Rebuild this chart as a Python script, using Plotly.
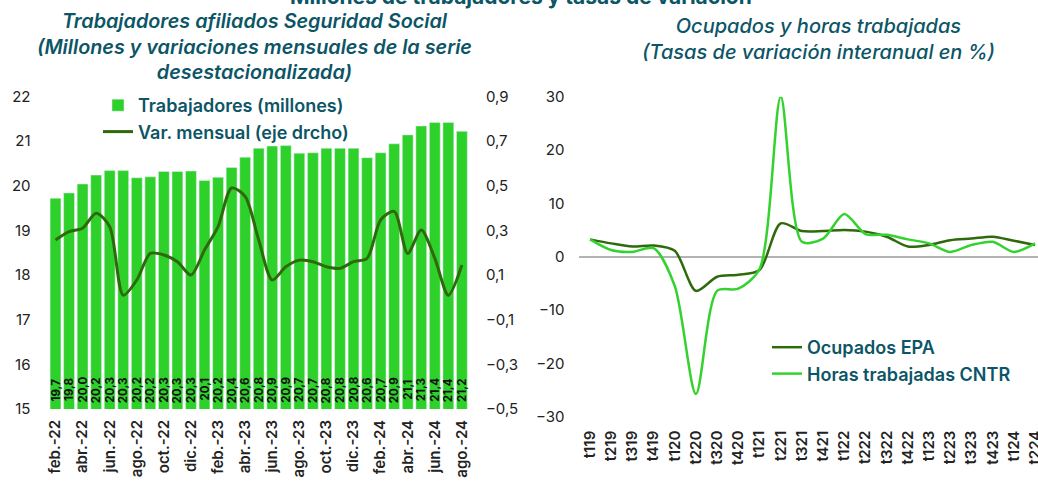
import plotly.graph_objects as go

W, H = 1038, 481

meses = ["feb.-22", "mar.-22", "abr.-22", "may.-22", "jun.-22", "jul.-22", "ago.-22",
         "sep.-22", "oct.-22", "nov.-22", "dic.-22", "ene.-23", "feb.-23", "mar.-23",
         "abr.-23", "may.-23", "jun.-23", "jul.-23", "ago.-23", "sep.-23", "oct.-23",
         "nov.-23", "dic.-23", "ene.-24", "feb.-24", "mar.-24", "abr.-24", "may.-24",
         "jun.-24", "jul.-24", "ago.-24"]
afiliados = [19.72, 19.84, 20.04, 20.24, 20.34, 20.34, 20.18, 20.20, 20.32, 20.32, 20.33,
             20.12, 20.19, 20.41, 20.64, 20.84, 20.89, 20.90, 20.73, 20.74, 20.84, 20.84,
             20.84, 20.63, 20.74, 20.94, 21.14, 21.34, 21.42, 21.42, 21.22]
var_mensual = [0.257, 0.295, 0.31, 0.377, 0.317, 0.01, 0.078, 0.197, 0.19, 0.16, 0.10,
               0.212, 0.317, 0.49, 0.452, 0.257, 0.078, 0.137, 0.167, 0.16, 0.137, 0.13,
               0.16, 0.175, 0.347, 0.385, 0.197, 0.302, 0.175, 0.01, 0.145]
meses_ticks = meses[::2]

trimestres = ["t119", "t219", "t319", "t419", "t120", "t220", "t320", "t420", "t121",
              "t221", "t321", "t421", "t122", "t222", "t322", "t422", "t123", "t223",
              "t323", "t423", "t124", "t224"]
ocupados_epa = [3.25, 2.5, 1.9, 2.1, 1.1, -6.4, -3.75, -3.4, -2.5, 6.25, 4.8, 4.8, 5.0,
                4.7, 3.75, 1.9, 2.2, 3.1, 3.4, 3.75, 3.0, 2.2]
horas_cntr = [3.25, 1.25, 0.9, 1.6, -5.5, -25.75, -6.4, -6.0, -2.3, 30.0, 2.8, 3.4, 8.0,
              4.25, 4.1, 3.25, 2.5, 0.9, 2.2, 2.8, 0.9, 2.5]

BAR = "#2ed12a"
DARK = "#2e6a0c"
LIGHT = "#33d22f"
TEAL = "#0c5566"
FONT = "Inter"
TICKC = "#222222"
Y_MIN_LEFT = 15


def px_x(p):
    return p / W


def px_y(p):
    return 1 - p / H


fig = go.Figure()

fig.add_trace(go.Bar(
    x=meses, y=afiliados, name="Trabajadores (millones)", marker_color=BAR,
    xaxis="x", yaxis="y", legend="legend"))
fig.add_trace(go.Scatter(
    x=meses, y=var_mensual, name="Var. mensual (eje drcho)", mode="lines",
    line=dict(color=DARK, width=3, shape="spline", smoothing=0.8),
    xaxis="x", yaxis="y2", legend="legend"))

fig.add_trace(go.Scatter(
    x=trimestres, y=ocupados_epa, name="Ocupados EPA", mode="lines",
    line=dict(color=DARK, width=2.5, shape="spline", smoothing=0.8),
    xaxis="x3", yaxis="y3", legend="legend2"))
fig.add_trace(go.Scatter(
    x=trimestres, y=horas_cntr, name="Horas trabajadas CNTR", mode="lines",
    line=dict(color=LIGHT, width=2.5, shape="spline", smoothing=0.8),
    xaxis="x3", yaxis="y3", legend="legend2"))

# data labels inside the bars, near the base, rotated
for m, v in zip(meses, afiliados):
    fig.add_annotation(x=m, y=Y_MIN_LEFT, xref="x", yref="y",
                       text=f"{v:.1f}".replace(".", ","), textangle=-90,
                       showarrow=False, xanchor="center", yanchor="middle",
                       yshift=19,
                       font=dict(family=FONT, size=11.5, color="#111111", weight="bold"))

tickfont = dict(family=FONT, size=15, color=TICKC)
xtickfont = dict(family=FONT, size=15, color=TICKC, weight=600)

left_dom = [px_x(46.5), px_x(470.9)]
left_ydom = [px_y(409), px_y(96.5)]
right_dom = [px_x(579.4), 1.0]
right_ydom = [px_y(416.7), px_y(96.7)]

fig.update_layout(
    width=W, height=H,
    margin=dict(l=0, r=0, t=0, b=0),
    paper_bgcolor="white", plot_bgcolor="white",
    separators=",.",
    font=dict(family=FONT, color=TICKC),
    bargap=0.2,
    xaxis=dict(domain=left_dom, type="category", tickmode="array", tickvals=meses_ticks,
               tickangle=-90, tickfont=xtickfont, showgrid=False, showline=False,
               ticks="", ticklabelstandoff=7, anchor="y", automargin=False),
    yaxis=dict(domain=left_ydom, range=[Y_MIN_LEFT, 22], dtick=1, tickfont=tickfont,
               showgrid=False, zeroline=False, showline=False, ticks="",
               ticklabelstandoff=15, anchor="x", automargin=False),
    yaxis2=dict(domain=left_ydom, range=[-0.5, 0.9], tick0=-0.5, dtick=0.2,
                tickformat=".1f", overlaying="y", side="right", anchor="x",
                tickfont=tickfont, showgrid=False, zeroline=False, showline=False,
                ticks="", ticklabelstandoff=14, automargin=False),
    xaxis3=dict(domain=right_dom, type="category", range=[-0.5, 21.14],
                tickangle=-90, tickfont=dict(family=FONT, size=15, color=TICKC, weight=600),
                showgrid=False, showline=False, ticks="", ticklabelstandoff=10,
                anchor="y3", automargin=False),
    yaxis3=dict(domain=right_ydom, range=[-30, 30], dtick=10, tickfont=tickfont,
                showgrid=False, zeroline=True, zerolinecolor="#b3b3b3", zerolinewidth=2,
                showline=False, ticks="", ticklabelstandoff=14, anchor="x3",
                automargin=False),
    legend=dict(x=px_x(98), y=px_y(87), xanchor="left", yanchor="top",
                bgcolor="rgba(0,0,0,0)", itemwidth=30, tracegroupgap=0,
                font=dict(family=FONT, size=18, color=TEAL, weight=600)),
    legend2=dict(x=px_x(767), y=px_y(329), xanchor="left", yanchor="top",
                 bgcolor="rgba(0,0,0,0)", itemwidth=30, tracegroupgap=0,
                 font=dict(family=FONT, size=18, color=TEAL, weight=600)),
    showlegend=True,
)

fig.add_annotation(text="<b>Millones de trabajadores y tasas de variación</b>",
                   x=px_x(521), y=px_y(-4), xref="paper", yref="paper",
                   xanchor="center", yanchor="middle", showarrow=False,
                   font=dict(family=FONT, size=21, color=TEAL))
fig.add_annotation(text="<i>Trabajadores afiliados Seguridad Social<br>(Millones y variaciones mensuales de la serie<br>desestacionalizada)</i>",
                   x=px_x(254), y=px_y(46), xref="paper", yref="paper",
                   xanchor="center", yanchor="middle", showarrow=False, align="center",
                   font=dict(family=FONT, size=19.8, color=TEAL, weight=600))
fig.add_annotation(text="<i>Ocupados y horas trabajadas<br>(Tasas de variación interanual en %)</i>",
                   x=px_x(818), y=px_y(39), xref="paper", yref="paper",
                   xanchor="center", yanchor="middle", showarrow=False, align="center",
                   font=dict(family=FONT, size=20, color=TEAL, weight=500))

fig.write_html("out.html", config={"displayModeBar": False},
               post_script="document.body.style.margin='0';document.body.style.overflow='hidden';")
